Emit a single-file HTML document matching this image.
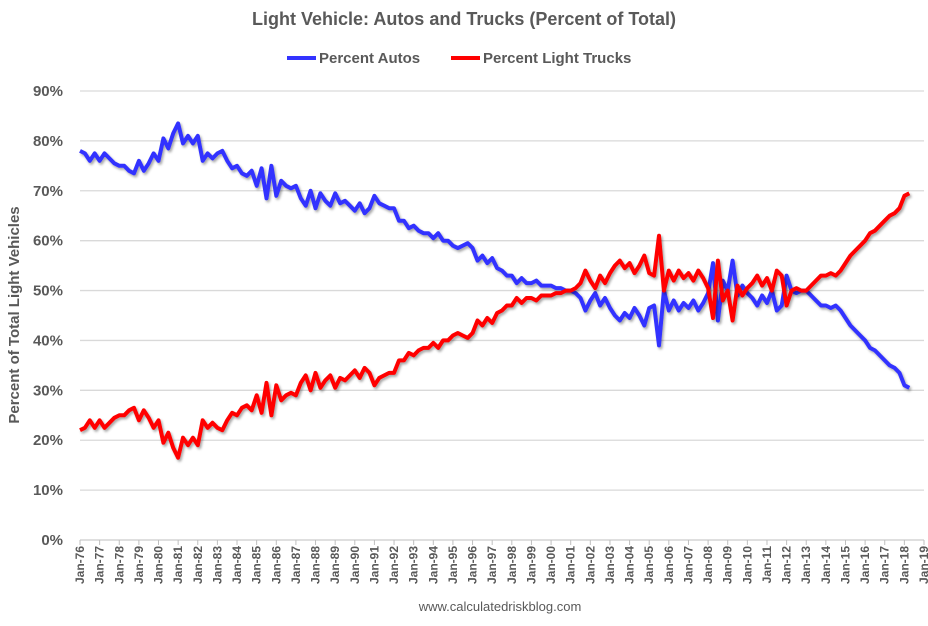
<!DOCTYPE html>
<html><head><meta charset="utf-8"><style>
body{margin:0;background:#fff;}
svg text{font-family:"Liberation Sans",Arial,sans-serif;fill:#595959;font-weight:bold;}
</style></head><body>
<svg id="chart" width="928" height="621" xmlns="http://www.w3.org/2000/svg">
<defs><filter id="sh" x="-5%" y="-5%" width="110%" height="110%"><feDropShadow dx="1.5" dy="2" stdDeviation="1.2" flood-color="#000" flood-opacity="0.35"/></filter></defs>
<text x="464" y="25" text-anchor="middle" font-size="18">Light Vehicle: Autos and Trucks (Percent of Total)</text>
<g>
<line x1="287" y1="58" x2="316" y2="58" stroke="#3333ff" stroke-width="4"/>
<text x="319" y="63" font-size="15">Percent Autos</text>
<line x1="451" y1="58" x2="480" y2="58" stroke="#ff0000" stroke-width="4"/>
<text x="483" y="63" font-size="15">Percent Light Trucks</text>
</g>
<text transform="translate(19,315) rotate(-90)" text-anchor="middle" font-size="15">Percent of Total Light Vehicles</text>
<g id="grid"></g><g id="yt"></g><g id="xt"></g><g id="series"></g>
<text x="500" y="611" text-anchor="middle" font-size="13" style="font-weight:normal">www.calculatedriskblog.com</text>
</svg>
<script>
const yTicks=[0,10,20,30,40,50,60,70,80,90];
const xYears=[];for(let y=1976;y<=2019;y++)xYears.push(y);
const startYear=1976;
const autos=[78,77.5,76,77.5,76,77.5,76.5,75.5,75,75,74,73.5,76,74,75.5,77.5,76,80.5,78.5,81.5,83.5,79.5,81,79.5,81,76,77.5,76.5,77.5,78,76,74.5,75,73.5,73,74,71,74.5,68.5,75,69,72,71,70.5,71,68.5,67,70,66.5,69.5,68,67,69.5,67.5,68,67,66,67.5,65.5,66.5,69,67.5,67,66.5,66.5,64,64,62.5,63,62,61.5,61.5,60.5,61.5,60,60,59,58.5,59,59.5,58.5,56,57,55.5,56.5,54.5,54,53,53,51.5,52.5,51.5,51.5,52,51,51,51,50.5,50.5,50,50,49.5,48.5,46,48,49.5,47,48.5,46.5,45,44,45.5,44.5,46.5,45,43,46.5,47,39,50,46,48,46,47.5,46.5,48,46,47.5,49.5,55.5,44,52,50,56,49,51,49.5,48.5,47,49,47.5,50,46,47,53,50,49.5,50,50,49,48,47,47,46.5,47,46,44.5,43,42,41,40,38.5,38,37,36,35,34.5,33.5,31,30.5];
const trucks=[22,22.5,24,22.5,24,22.5,23.5,24.5,25,25,26,26.5,24,26,24.5,22.5,24,19.5,21.5,18.5,16.5,20.5,19,20.5,19,24,22.5,23.5,22.5,22,24,25.5,25,26.5,27,26,29,25.5,31.5,25,31,28,29,29.5,29,31.5,33,30,33.5,30.5,32,33,30.5,32.5,32,33,34,32.5,34.5,33.5,31,32.5,33,33.5,33.5,36,36,37.5,37,38,38.5,38.5,39.5,38.5,40,40,41,41.5,41,40.5,41.5,44,43,44.5,43.5,45.5,46,47,47,48.5,47.5,48.5,48.5,48,49,49,49,49.5,49.5,50,50,50.5,51.5,54,52,50.5,53,51.5,53.5,55,56,54.5,55.5,53.5,55,57,53.5,53,61,50,54,52,54,52.5,53.5,52,54,52.5,50.5,44.5,56,48,50,44,51,49,50.5,51.5,53,51,52.5,50,54,53,47,50,50.5,50,50,51,52,53,53,53.5,53,54,55.5,57,58,59,60,61.5,62,63,64,65,65.5,66.5,69,69.5];
const X0=80,X1=924,Y0=540,Y1=91;
const xs=t=>X0+(t-1976)*(X1-X0)/43;
const ys=v=>Y0-v*(Y0-Y1)/90;
const NS="http://www.w3.org/2000/svg";
function mk(tag,attrs,parent){const e=document.createElementNS(NS,tag);for(const k in attrs)e.setAttribute(k,attrs[k]);document.getElementById(parent).appendChild(e);return e;}
yTicks.forEach(v=>{
 if(v>0){const g=mk('line',{x1:X0,x2:X1,y1:ys(v),y2:ys(v),stroke:'#d9d9d9','stroke-width':1.3},'grid');
 
 }
 const t=mk('text',{x:63,y:ys(v)+5,'text-anchor':'end','font-size':15},'yt');t.textContent=v+'%';
 
 
});
const ax=mk('line',{x1:X0,x2:X1,y1:Y0,y2:Y0,stroke:'#bfbfbf','stroke-width':1},'grid');


xYears.forEach(y=>{
 const x=xs(y);
 const tk=mk('line',{x1:x,x2:x,y1:Y0,y2:Y0+5,stroke:'#bfbfbf'},'xt');
 
 
 const t=mk('text',{transform:`translate(${x+4},${Y0+6}) rotate(-90)`,'text-anchor':'end','font-size':12},'xt');
 t.textContent='Jan-'+String(y%100).padStart(2,'0');
 
 
});
function line(data,color,name){
 const d=data.map((v,i)=>(i?'L':'M')+xs(startYear+i*0.25).toFixed(1)+','+ys(v).toFixed(1)).join(' ');
 const p=mk('path',{d:d,fill:'none',stroke:color,'stroke-width':4,'stroke-linejoin':'round',filter:'url(#sh)'},'series');
 
 
}
line(autos,'#3333ff','percent-autos-line');
line(trucks,'#ff0000','percent-trucks-line');
</script>
</body></html>
